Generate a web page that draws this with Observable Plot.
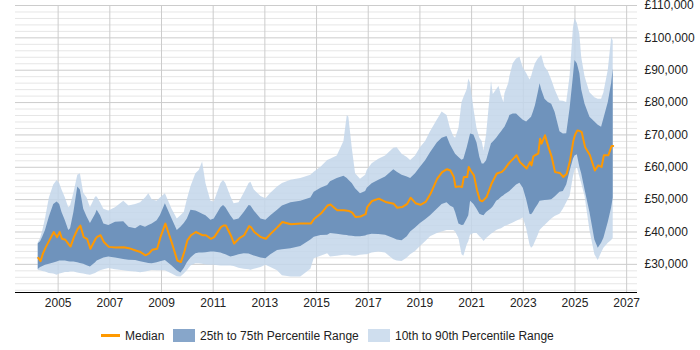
<!DOCTYPE html>
<html>
<head>
<meta charset="utf-8">
<script src="https://cdn.jsdelivr.net/npm/d3@7"></script>
<script src="https://cdn.jsdelivr.net/npm/@observablehq/plot@0.6"></script>
<style>
  body { margin: 0; background: #fff; font-family: "Liberation Sans", Arial, sans-serif; }
  #chart { position: relative; width: 700px; height: 350px; overflow: hidden; }
  #chart svg { display: block; }
  .legend { position: absolute; top: 329px; left: 0; width: 700px; height: 14px; font-size: 12px; color: #222; }
  .legend .item { position: absolute; top: 0; height: 14px; line-height: 14px; white-space: nowrap; }
  .legend .line { position: absolute; top: 5px; width: 19px; height: 3px; background: #ff9900; }
  .legend .box { position: absolute; top: 0; width: 22px; height: 13px; }
</style>
</head>
<body>
<div id="chart"></div>
<script>
// Time points (decimal years) and salary percentiles in £ thousands
const dates = [
  2004.23, 2004.32, 2004.41, 2004.51, 2004.66, 2004.83, 2004.96, 2005.06, 2005.15, 2005.28,
  2005.41, 2005.48, 2005.61, 2005.76, 2005.86, 2005.99, 2006.12, 2006.25, 2006.45, 2006.51,
  2006.64, 2006.77, 2006.96, 2007.22, 2007.54, 2007.74, 2008.00, 2008.19, 2008.38, 2008.51,
  2008.64, 2008.83, 2008.96, 2009.15, 2009.41, 2009.61, 2009.75, 2009.88, 2010.00, 2010.14,
  2010.33, 2010.46, 2010.59, 2010.72, 2010.91, 2011.04, 2011.30, 2011.40, 2011.49, 2011.68,
  2011.81, 2012.00, 2012.20, 2012.39, 2012.46, 2012.59, 2012.85, 2013.04, 2013.23, 2013.49,
  2013.68, 2014.01, 2014.39, 2014.78, 2014.91, 2015.17, 2015.43, 2015.54, 2015.80, 2016.06,
  2016.19, 2016.25, 2016.38, 2016.51, 2016.70, 2016.90, 2016.96, 2017.15, 2017.41, 2017.67,
  2017.99, 2018.12, 2018.31, 2018.51, 2018.64, 2018.83, 2019.02, 2019.22, 2019.41, 2019.67,
  2019.86, 2020.05, 2020.18, 2020.31, 2020.38, 2020.51, 2020.63, 2020.70, 2020.83, 2020.89,
  2020.96, 2021.09, 2021.21, 2021.32, 2021.41, 2021.48, 2021.58, 2021.77, 2021.84, 2021.97,
  2022.06, 2022.16, 2022.25, 2022.29, 2022.44, 2022.48, 2022.61, 2022.74, 2022.87, 2023.00,
  2023.13, 2023.26, 2023.32, 2023.39, 2023.47, 2023.58, 2023.65, 2023.71, 2023.84, 2023.97,
  2024.10, 2024.23, 2024.42, 2024.55, 2024.68, 2024.81, 2024.94, 2025.00, 2025.09, 2025.19,
  2025.26, 2025.39, 2025.58, 2025.77, 2025.90, 2026.03, 2026.12, 2026.29, 2026.42, 2026.48
];
const p10 = [
  28.1, 28.0, 27.8, 27.6, 27.2, 27.0, 26.6, 27.0, 27.2, 27.5,
  27.5, 27.6, 27.6, 27.3, 27.2, 27.0, 26.8, 26.6, 27.2, 27.5,
  28.0, 28.3, 28.7, 28.3, 28.0, 27.8, 27.6, 27.4, 27.6, 27.9,
  28.1, 28.0, 28.0, 28.0, 27.0, 26.2, 26.1, 27.0, 28.0, 29.5,
  30.2, 30.2, 30.0, 29.8, 29.7, 29.7, 29.5, 29.5, 29.5, 29.5,
  29.3, 28.8, 28.5, 28.3, 28.2, 28.5, 29.0, 29.7, 29.0, 28.0,
  26.5, 26.1, 26.1, 28.5, 31.7, 32.5, 33.3, 32.3, 32.5, 32.8,
  32.8, 32.8, 32.6, 32.5, 32.8, 33.0, 33.0, 33.5, 33.8, 33.5,
  31.4, 31.0, 30.9, 32.0, 33.0, 34.0, 35.5, 37.0, 38.5, 39.5,
  40.0, 40.5, 40.5, 40.5, 40.0, 38.0, 33.0, 32.5, 36.0, 37.0,
  39.0, 39.5, 39.5, 38.5, 37.8, 37.1, 38.0, 39.3, 39.7, 40.5,
  40.8, 41.0, 41.5, 41.7, 42.2, 42.3, 42.8, 43.3, 43.8, 44.3,
  41.0, 36.0, 35.0, 35.5, 37.0, 39.0, 40.5, 41.0, 42.0, 43.0,
  44.0, 44.8, 45.5, 47.0, 49.0, 51.0, 57.0, 59.0, 60.0, 57.0,
  55.0, 51.0, 40.5, 33.0, 31.2, 33.5, 35.0, 36.5, 37.4, 38.0
];
const p25 = [
  28.4, 29.0, 29.3, 29.7, 30.0, 30.4, 30.7, 31.0, 31.0, 31.0,
  30.8, 30.7, 30.7, 30.5, 30.3, 30.0, 29.6, 29.2, 30.5, 31.0,
  31.5, 32.0, 32.3, 32.0, 31.5, 31.3, 31.2, 30.8, 30.5, 30.3,
  30.2, 30.5, 30.8, 31.2, 29.5, 28.0, 27.3, 28.7, 30.5, 32.0,
  33.3, 33.5, 33.5, 33.6, 33.8, 33.8, 33.5, 33.2, 33.0, 32.3,
  32.5, 33.0, 33.3, 33.2, 33.0, 32.6, 32.0, 31.7, 33.0, 34.3,
  34.5, 34.8, 35.5, 37.5, 38.4, 38.9, 39.0, 39.5, 39.3, 39.0,
  38.9, 38.8, 38.7, 38.5, 38.5, 38.8, 39.0, 39.3, 39.2, 39.0,
  38.0, 37.5, 37.3, 38.5, 40.0, 41.2, 42.6, 43.8, 45.0, 47.0,
  48.5, 49.0, 48.0, 47.5, 46.0, 42.5, 42.0, 42.1, 44.0, 45.0,
  49.5, 48.5, 47.0, 45.5, 45.2, 45.0, 46.0, 47.2, 47.8, 49.5,
  50.0, 50.7, 51.2, 51.5, 52.3, 52.5, 53.5, 54.5, 55.1, 53.5,
  50.0, 45.5, 45.3, 46.0, 47.2, 48.5, 49.5, 49.6, 49.7, 49.8,
  50.0, 50.8, 52.3, 52.5, 54.5, 58.7, 62.5, 63.5, 63.9, 60.0,
  58.0, 53.0, 46.0, 37.5, 35.0, 36.5, 38.1, 43.0, 47.5, 50.5
];
const median = [
  32.0, 31.0, 33.3, 35.1, 37.4, 40.0, 38.4, 40.0, 37.9, 37.6,
  36.2, 35.5, 38.4, 41.0, 42.0, 38.4, 37.9, 34.8, 37.9, 38.5,
  39.0, 36.9, 35.4, 35.2, 35.3, 35.0, 34.3, 33.8, 32.8, 33.3,
  34.5, 34.8, 38.4, 42.6, 36.4, 31.2, 30.7, 33.8, 37.4, 39.0,
  40.0, 39.5, 39.0, 39.0, 37.9, 38.4, 41.5, 42.0, 42.0, 39.0,
  36.4, 38.0, 39.0, 41.8, 41.5, 40.0, 38.4, 37.9, 39.5, 41.5,
  43.1, 42.4, 42.6, 42.6, 44.1, 45.7, 48.2, 48.5, 46.7, 46.7,
  46.6, 46.5, 46.0, 44.6, 44.8, 45.5, 47.7, 49.6, 50.3, 49.3,
  48.7, 47.5, 47.7, 48.7, 50.6, 48.9, 48.4, 49.3, 51.8, 56.5,
  58.5, 59.4, 59.0, 57.0, 53.9, 54.1, 53.9, 57.0, 57.0, 60.1,
  59.0, 57.5, 52.9, 49.8, 49.5, 50.0, 50.8, 54.9, 56.0, 58.0,
  58.3, 58.5, 59.2, 59.6, 61.2, 61.6, 62.6, 63.7, 61.6, 60.6,
  59.6, 61.6, 60.6, 63.4, 63.8, 64.2, 68.8, 67.3, 69.9, 66.3,
  63.2, 58.5, 58.2, 57.0, 58.0, 62.1, 68.3, 70.0, 71.4, 71.2,
  70.9, 66.3, 63.7, 59.0, 60.6, 60.1, 63.7, 63.7, 66.6, 66.6
];
const p75 = [
  36.4, 37.0, 38.5, 40.5, 44.6, 48.5, 49.3, 48.5, 46.0, 43.5,
  40.5, 41.0, 46.0, 53.9, 53.0, 47.0, 44.6, 42.6, 45.5, 46.7,
  45.0, 42.5, 42.0, 43.0, 43.2, 41.5, 41.0, 42.0, 41.5, 42.0,
  42.5, 43.5, 45.1, 48.7, 44.0, 40.5, 41.5, 42.6, 44.0, 46.7,
  46.5, 46.0, 45.5, 45.0, 43.6, 44.0, 47.5, 48.2, 47.5, 45.0,
  43.6, 44.0, 46.0, 48.2, 48.0, 46.5, 44.0, 43.6, 45.0, 46.7,
  48.0, 49.0, 49.5, 50.5, 52.3, 53.5, 54.4, 55.5, 56.5, 57.2,
  56.5, 56.0, 55.0, 53.4, 51.8, 52.5, 53.5, 54.9, 56.0, 57.0,
  59.2, 58.5, 57.5, 57.0, 56.5, 58.0, 60.0, 62.0, 64.5, 67.5,
  69.0, 69.5, 67.0, 65.0, 64.0, 63.0, 62.2, 62.5, 66.0, 68.0,
  70.3, 70.0, 67.5, 63.0, 61.0, 61.0, 62.0, 67.3, 67.8, 69.0,
  70.0, 71.0, 72.0, 72.4, 75.0, 76.0, 76.5, 76.5, 75.5, 74.5,
  74.0, 75.0, 75.5, 77.0, 79.0, 83.0, 85.8, 84.0, 81.0, 80.0,
  79.5, 77.0, 71.0, 70.3, 70.4, 78.0, 88.0, 93.0, 92.0, 88.9,
  84.0, 79.5, 75.5, 74.0, 73.0, 72.4, 75.0, 80.0, 86.0, 90.4
];
const p90 = [
  36.6, 38.0, 40.5, 44.0, 50.5, 54.5, 55.9, 55.0, 53.0, 50.5,
  47.5, 48.0, 52.0, 57.5, 58.0, 52.0, 50.5, 47.5, 50.8, 50.8,
  49.0, 47.0, 46.5, 47.5, 49.5, 48.0, 48.5, 49.0, 50.5, 51.8,
  50.0, 49.5, 50.5, 51.8, 47.0, 44.0, 45.0, 46.0, 50.0, 54.0,
  58.0, 59.0, 61.6, 55.0, 49.5, 49.3, 55.0, 55.9, 55.0, 51.0,
  48.7, 49.0, 52.0, 55.0, 55.4, 53.0, 51.0, 50.3, 52.0, 53.9,
  55.0, 56.0, 56.5, 57.5, 58.5, 60.0, 62.1, 62.5, 63.5, 68.0,
  76.0, 75.5, 66.0, 58.0, 56.3, 57.5, 59.0, 61.1, 62.5, 63.5,
  65.9, 66.0, 64.0, 63.0, 62.1, 63.5, 66.0, 68.0, 71.0, 74.5,
  77.1, 76.0, 72.0, 69.5, 69.0, 72.0, 80.0, 81.5, 84.0, 87.3,
  86.0, 78.0, 72.0, 69.0, 68.0, 65.0, 70.0, 86.5, 82.5, 84.0,
  85.0, 82.0, 80.0, 82.7, 86.0, 88.0, 92.0, 93.5, 94.0, 90.7,
  89.0, 87.0, 88.0, 90.0, 92.0, 93.5, 94.0, 94.6, 91.0, 89.5,
  87.0, 84.0, 80.5, 80.4, 80.0, 88.0, 103.0, 105.9, 104.5, 101.0,
  94.0, 88.0, 83.0, 81.5, 81.0, 81.0, 83.0, 90.0, 100.0, 99.0
];

// Axis ticks
const yearTicks = d3.range(2005, 2028, 2);
const salaryTicks = d3.range(30000, 110001, 10000);
const minorSalaryTicks = d3.range(22000, 110001, 2000).filter(v => v % 10000 !== 0);

const rows = dates.map((t, i) => ({
  t,
  p10: p10[i] * 1000,
  p25: p25[i] * 1000,
  median: median[i] * 1000,
  p75: p75[i] * 1000,
  p90: p90[i] * 1000
}));

const yMin = 21300;
const fmtPounds = d => "£" + d3.format(",")(d);

const chart = Plot.plot({
  width: 700,
  height: 310,
  marginTop: 5,
  marginBottom: 18,
  marginLeft: 15,
  marginRight: 63,
  x: { domain: [2003.35, 2027.42], label: null },
  y: { domain: [yMin, 110000], label: null },
  style: {
    fontFamily: "'Liberation Sans', Arial, sans-serif",
    fontSize: "12px",
    color: "#222",
    background: "transparent"
  },
  marks: [
    Plot.ruleY(minorSalaryTicks, { stroke: "#e6e6e6", strokeWidth: 1 }),
    Plot.ruleY(salaryTicks, { stroke: "#cccccc", strokeWidth: 1 }),
    Plot.ruleX(yearTicks, { stroke: "#cccccc", strokeWidth: 1 }),
    Plot.areaY(rows, { x: "t", y1: "p10", y2: "p90", fill: "#c3d6ea", fillOpacity: 0.85 }),
    Plot.areaY(rows, { x: "t", y1: "p25", y2: "p75", fill: "#6f93bc" }),
    Plot.line(rows, { x: "t", y: "median", stroke: "#ff9900", strokeWidth: 2 }),
    Plot.ruleY([yMin], { stroke: "#000", strokeWidth: 1 }),
    Plot.axisX({ ticks: yearTicks, tickSize: 0, tickPadding: 6, tickFormat: d => String(d), label: null }),
    Plot.axisY({ anchor: "right", ticks: salaryTicks, tickSize: 0, tickPadding: 7, tickFormat: fmtPounds, label: null })
  ]
});

const root = document.getElementById("chart");
root.appendChild(chart);

// Legend below the chart
const legend = document.createElement("div");
legend.className = "legend";
legend.innerHTML = `
  <div class="item" style="left:101px"><span class="line" style="left:0"></span><span style="position:absolute;left:24px">Median</span></div>
  <div class="item" style="left:173px"><span class="box" style="left:0;background:#87a6ca"></span><span style="position:absolute;left:27px">25th to 75th Percentile Range</span></div>
  <div class="item" style="left:368px"><span class="box" style="left:0;background:#cfdeee"></span><span style="position:absolute;left:27px">10th to 90th Percentile Range</span></div>
`;
root.appendChild(legend);
</script>
</body>
</html>
